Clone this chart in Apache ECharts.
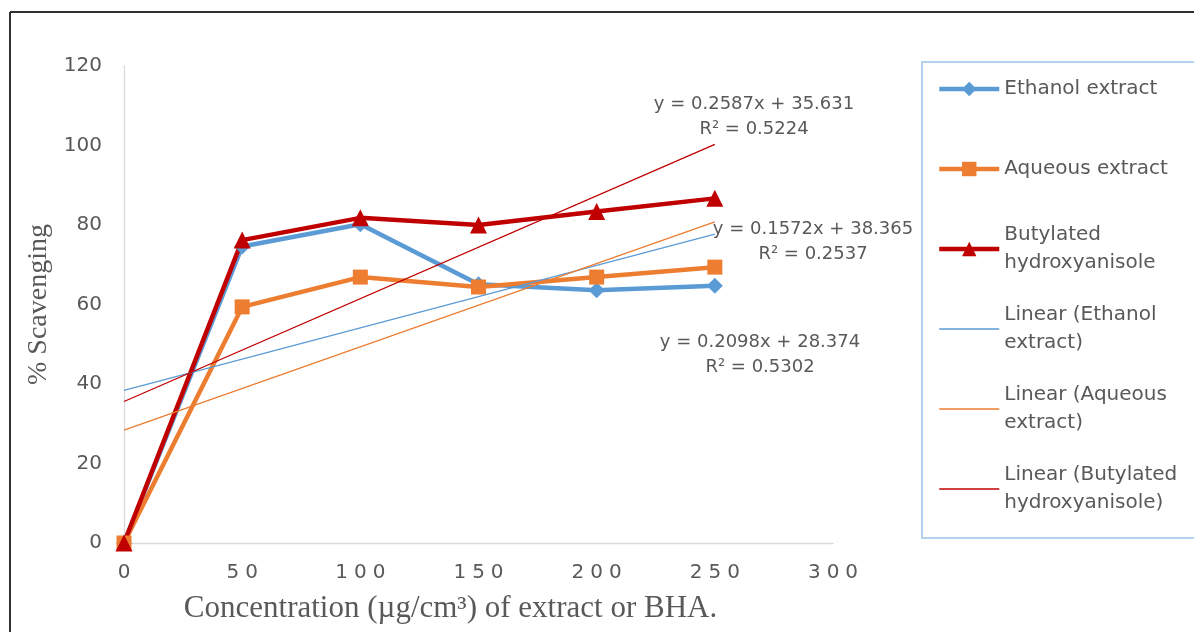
<!DOCTYPE html>
<html>
<head>
<meta charset="utf-8">
<script src="https://cdn.jsdelivr.net/npm/echarts@6/dist/echarts.min.js"></script>
<style>html,body{margin:0;padding:0;background:#fff}#c{width:1194px;height:632px}</style>
</head>
<body>
<div id="c"></div>
<script>
// ---- data ----
const concentrations = [0, 50, 100, 150, 200, 250];
const ethanolExtract = [0, 74.6, 80.2, 65.1, 63.6, 64.7];
const aqueousExtract = [0, 59.4, 66.9, 64.4, 66.9, 69.4];
const bhaValues = [0, 76.2, 81.8, 80.0, 83.4, 86.7];
// trendline end points (x = 0 and x = 250), read from the drawn trendlines
const trendX = [0, 250];
const trendEthanol = [38.4, 77.7];
const trendAqueous = [28.4, 80.8];
const trendBHA = [35.6, 100.3];
const yTicks = {min: 0, max: 120, interval: 20};
const xTicks = {min: 0, max: 300, interval: 50};
const equations = [
  'y = 0.2587x + 35.631\nR² = 0.5224',
  'y = 0.1572x + 38.365\nR² = 0.2537',
  'y = 0.2098x + 28.374\nR² = 0.5302'
];

const pairs = (xs, ys) => xs.map((x, i) => [x, ys[i]]);
const SANS = '"DejaVu Sans", sans-serif';
const SERIF = '"Liberation Serif", "Times New Roman", serif';
const GREY = '#595959';
const BLUE = '#5B9BD5', ORANGE = '#ED7D31', RED = '#C00000';

const chart = echarts.init(document.getElementById('c'), null, {renderer: 'canvas'});
const nameMap = {
  'Ethanol extract': 'Ethanol extract',
  'Aqueous extract': 'Aqueous extract',
  'Butylated hydroxyanisole': 'Butylated\nhydroxyanisole',
  'Linear (Ethanol extract)': 'Linear (Ethanol\nextract)',
  'Linear (Aqueous extract)': 'Linear (Aqueous\nextract)',
  'Linear (Butylated hydroxyanisole)': 'Linear (Butylated\nhydroxyanisole)'
};
const one = {padding: [28, 0, 28, 0]};
const two = {padding: [28, 0, 0, 0]};
const noSym = {opacity: 0};

chart.setOption({
  animation: false,
  backgroundColor: '#fff',
  grid: {left: 124, top: 66, right: 361, bottom: 89, containLabel: false},
  xAxis: {
    type: 'value', min: xTicks.min, max: xTicks.max, interval: xTicks.interval,
    axisLine: {show: true, lineStyle: {color: '#D9D9D9', width: 1.3}},
    axisTick: {show: false},
    splitLine: {show: false},
    axisLabel: {
      margin: 20, color: GREY, fontFamily: SANS, fontSize: 20,
      formatter: v => String(v).split('').map(c => '{d|' + c + '}').join(''),
      rich: {d: {fontFamily: SANS, fontSize: 20, color: GREY, padding: [0, 3, 0, 3]}}
    },
    name: 'Concentration (µg/cm³) of extract or BHA.',
    nameLocation: 'middle', nameGap: 50,
    nameTextStyle: {fontFamily: SERIF, fontSize: 31, color: GREY, padding: [0, 56, 0, 0]}
  },
  yAxis: {
    type: 'value', min: yTicks.min, max: yTicks.max, interval: yTicks.interval,
    axisLine: {show: true, lineStyle: {color: '#D9D9D9', width: 1.3}},
    axisTick: {show: false},
    splitLine: {show: false},
    axisLabel: {margin: 22, color: GREY, fontFamily: SANS, fontSize: 20},
    name: '% Scavenging', nameLocation: 'middle', nameGap: 70, nameRotate: 90,
    nameTextStyle: {fontFamily: SERIF, fontSize: 28, color: GREY}
  },
  legend: {
    orient: 'vertical', left: 937, top: 47, padding: 0,
    itemWidth: 60, itemHeight: 18, itemGap: -4,
    formatter: n => nameMap[n],
    lineStyle: {width: 'inherit'},
    textStyle: {color: GREY, fontFamily: SANS, fontSize: 20, lineHeight: 28},
    data: [
      {name: 'Ethanol extract', textStyle: one},
      {name: 'Aqueous extract', textStyle: one},
      {name: 'Butylated hydroxyanisole', textStyle: two},
      {name: 'Linear (Ethanol extract)', textStyle: two, itemStyle: noSym},
      {name: 'Linear (Aqueous extract)', textStyle: two, itemStyle: noSym},
      {name: 'Linear (Butylated hydroxyanisole)', textStyle: two, itemStyle: noSym}
    ]
  },
  series: [
    {name: 'Ethanol extract', type: 'line', data: pairs(concentrations, ethanolExtract),
     symbol: 'diamond', symbolSize: 16, itemStyle: {color: BLUE}, lineStyle: {color: BLUE, width: 4.5}, z: 3},
    {name: 'Aqueous extract', type: 'line', data: pairs(concentrations, aqueousExtract),
     symbol: 'rect', symbolSize: 15, itemStyle: {color: ORANGE}, lineStyle: {color: ORANGE, width: 4.5}, z: 3},
    {name: 'Butylated hydroxyanisole', type: 'line', data: pairs(concentrations, bhaValues),
     symbol: 'triangle', symbolSize: 17, itemStyle: {color: RED}, lineStyle: {color: RED, width: 4.5}, z: 3},
    {name: 'Linear (Ethanol extract)', type: 'line', data: pairs(trendX, trendEthanol),
     showSymbol: false, symbol: 'none', itemStyle: {color: BLUE}, lineStyle: {color: BLUE, width: 1.3}, z: 4},
    {name: 'Linear (Aqueous extract)', type: 'line', data: pairs(trendX, trendAqueous),
     showSymbol: false, symbol: 'none', itemStyle: {color: ORANGE}, lineStyle: {color: ORANGE, width: 1.3}, z: 4},
    {name: 'Linear (Butylated hydroxyanisole)', type: 'line', data: pairs(trendX, trendBHA),
     showSymbol: false, symbol: 'none', itemStyle: {color: RED}, lineStyle: {color: RED, width: 1.3}, z: 4}
  ],
  graphic: [
    {type: 'line', shape: {x1: 10, y1: 12, x2: 1194, y2: 12}, style: {stroke: '#303030', lineWidth: 2}, silent: true},
    {type: 'line', shape: {x1: 10, y1: 12, x2: 10, y2: 632}, style: {stroke: '#303030', lineWidth: 2}, silent: true},
    {type: 'rect', shape: {x: 922, y: 62, width: 300, height: 476}, style: {fill: 'none', stroke: '#9DC3E6', lineWidth: 1.5}, silent: true, z: -1},
    {type: 'text', x: 754, y: 117, style: {text: equations[0], fill: GREY, font: '18px ' + SANS, align: 'center', verticalAlign: 'middle', lineHeight: 25}},
    {type: 'text', x: 813, y: 242, style: {text: equations[1], fill: GREY, font: '18px ' + SANS, align: 'center', verticalAlign: 'middle', lineHeight: 25}},
    {type: 'text', x: 760, y: 355, style: {text: equations[2], fill: GREY, font: '18px ' + SANS, align: 'center', verticalAlign: 'middle', lineHeight: 25}}
  ]
});
</script>
</body>
</html>
